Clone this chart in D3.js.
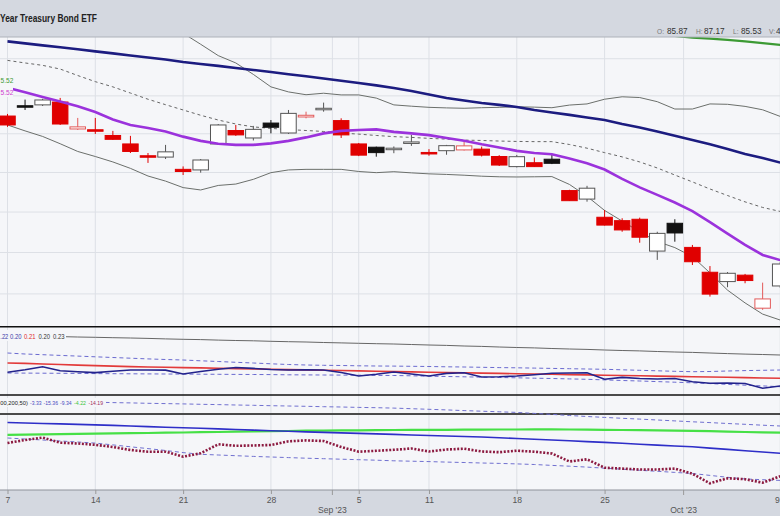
<!DOCTYPE html>
<html><head><meta charset="utf-8">
<script src="https://cdn.jsdelivr.net/npm/d3@7"></script>
<style>
body{margin:0;background:#f5f6f9;}
svg{display:block;font-family:"Liberation Sans",Arial,sans-serif;}
</style>
</head><body>
<svg id="c" width="780" height="516"></svg>
<script>
// ---------- DATA ----------
const dates = ["Aug 7","Aug 8","Aug 9","Aug 10","Aug 11","Aug 14","Aug 15","Aug 16","Aug 17","Aug 18",
  "Aug 21","Aug 22","Aug 23","Aug 24","Aug 25","Aug 28","Aug 29","Aug 30","Aug 31","Sep 1",
  "Sep 5","Sep 6","Sep 7","Sep 8","Sep 11","Sep 12","Sep 13","Sep 14","Sep 15","Sep 18",
  "Sep 19","Sep 20","Sep 21","Sep 22","Sep 25","Sep 26","Sep 27","Sep 28","Sep 29","Oct 2",
  "Oct 3","Oct 4","Oct 5","Oct 6","Oct 9"];
const priorClose = 95.20;
const open  = [94.93,95.46,95.52,95.67,94.25,94.18,93.91,93.47,92.84,92.79,92.16,92.13,93.47,94.17,93.78,94.56,94.04,94.88,95.29,94.69,93.47,93.30,93.20,93.52,93.00,93.12,93.16,93.20,92.82,92.30,92.50,92.68,91.08,90.65,89.74,89.57,89.64,88.07,89.44,88.25,87.04,86.59,86.90,85.32,86.38];
const high  = [95.04,95.80,95.84,95.89,94.83,94.83,94.15,93.89,93.00,93.42,92.31,92.69,94.51,94.46,94.41,94.72,95.25,95.16,95.64,94.81,93.52,93.33,93.34,93.94,93.20,93.42,93.59,93.33,92.89,92.90,92.77,92.90,91.12,91.32,90.10,89.69,89.72,89.02,89.64,88.37,87.34,87.05,86.96,86.54,87.53];
const low   = [94.36,95.25,95.46,94.46,94.20,93.99,93.68,93.00,92.49,92.69,91.87,91.99,93.42,93.89,93.65,94.02,93.99,94.81,95.16,93.78,92.84,92.81,92.99,93.37,92.86,92.91,93.13,92.82,92.33,92.26,92.28,92.43,90.56,90.52,89.33,89.02,88.48,87.64,88.53,87.39,85.87,86.32,86.51,85.24,86.29];
const close = [94.46,95.41,95.78,94.51,94.36,94.16,93.71,93.08,92.80,93.06,92.05,92.64,94.46,93.94,94.23,94.34,95.07,94.97,95.31,93.94,92.89,93.02,93.22,93.55,92.98,93.38,93.37,92.89,92.38,92.81,92.30,92.47,90.57,91.20,89.35,89.11,88.75,88.94,88.96,87.55,85.99,86.99,86.64,85.76,87.44];

const smaNavy = [98.95,98.84,98.73,98.63,98.52,98.40,98.29,98.18,98.07,97.96,97.82,97.71,97.61,97.50,97.39,97.28,97.16,97.05,96.93,96.81,96.69,96.56,96.42,96.26,96.07,95.89,95.75,95.62,95.52,95.41,95.25,95.12,94.99,94.85,94.72,94.51,94.33,94.12,93.89,93.68,93.45,93.21,92.95,92.74,92.51];
const emaPurple = [96.43,96.19,95.94,95.70,95.45,95.14,94.75,94.46,94.30,94.12,93.85,93.63,93.48,93.42,93.42,93.50,93.63,93.81,94.02,94.15,94.20,94.23,94.10,94.02,93.93,93.78,93.64,93.45,93.29,93.11,93.00,92.94,92.72,92.47,92.15,91.67,91.24,90.86,90.48,90.05,89.50,88.93,88.37,87.88,87.63];
const bbMid = [97.91,97.77,97.64,97.44,97.09,96.76,96.48,96.15,95.82,95.53,95.25,94.97,94.72,94.51,94.36,94.28,94.22,94.17,94.12,94.04,93.98,93.91,93.85,93.81,93.76,93.72,93.67,93.65,93.62,93.60,93.59,93.59,93.44,93.25,93.02,92.80,92.54,92.23,91.87,91.52,91.16,90.83,90.51,90.23,90.03];
const bbUpper = [101.36,101.39,101.42,101.40,101.10,100.70,100.42,100.09,99.82,99.50,99.40,98.79,98.17,97.77,97.15,96.48,96.21,96.06,96.14,96.05,96.05,95.88,95.52,95.45,95.39,95.36,95.34,95.37,95.39,95.42,95.40,95.37,95.51,95.57,95.82,95.95,95.91,95.69,95.30,95.30,95.57,95.55,95.44,95.26,94.91];
const bbLower = [94.46,94.15,93.86,93.48,93.08,92.82,92.54,92.21,91.82,91.56,91.23,91.11,91.34,91.41,91.65,91.99,92.13,92.16,92.16,92.16,92.05,91.99,92.04,91.98,91.93,91.90,91.86,91.81,91.78,91.77,91.78,91.79,91.39,90.79,90.08,89.55,89.02,88.54,88.24,87.80,87.01,86.18,85.57,85.04,84.76];
const smaGreen = [null,null,null,null,null,null,null,null,null,null,null,null,null,null,null,null,null,null,null,null,null,null,null,null,null,null,null,null,null,null,null,null,null,null,null,null,99.35,99.30,99.25,99.15,99.10,99.03,98.95,98.85,98.76];
const priceTicks = [86,88,90,92,94,96,98];
const priceLabels = ["5.52","5.52"];

// panel 2 (relative strength)
const relNavy = [.2028,.2052,.2082,.2043,.2032,.2024,.2038,.2050,.2050,.2049,.2010,.2035,.2058,.2075,.2066,.2055,.2050,.2051,.2050,.2025,.1990,.2007,.2030,.2010,.1990,.2016,.2022,.1980,.1983,.1990,.2003,.2017,.2020,.2023,.1957,.1976,.1965,.1960,.1965,.1932,.1917,.1920,.1915,.1867,.1890];
const relRed = [.2120,.2116,.2110,.2105,.2099,.2094,.2089,.2084,.2080,.2077,.2074,.2071,.2068,.2064,.2061,.2058,.2054,.2051,.2048,.2045,.2041,.2038,.2034,.2031,.2028,.2025,.2022,.2019,.2016,.2013,.2010,.2007,.2004,.2001,.1998,.1995,.1992,.1989,.1986,.1983,.1980,.1977,.1974,.1970,.1967];
const relGray = [.2396,.2393,.2389,.2384,.2380,.2377,.2373,.2370,.2366,.2361,.2357,.2354,.2349,.2345,.2342,.2337,.2333,.2330,.2325,.2321,.2317,.2313,.2310,.2305,.2300,.2296,.2290,.2286,.2280,.2275,.2271,.2265,.2260,.2256,.2250,.2245,.2241,.2235,.2230,.2226,.2220,.2214,.2209,.2205,.2200];
const relUpper = [.2220,.2210,.2203,.2196,.2189,.2182,.2175,.2168,.2161,.2155,.2150,.2142,.2135,.2127,.2120,.2112,.2105,.2100,.2097,.2095,.2092,.2090,.2089,.2087,.2085,.2082,.2080,.2077,.2074,.2072,.2069,.2066,.2063,.2060,.2057,.2052,.2047,.2042,.2037,.2033,.2035,.2040,.2044,.2047,.2050];
const relLower = [.2020,.2019,.2018,.2017,.2016,.2014,.2013,.2012,.2011,.2010,.2009,.2008,.2007,.2006,.2005,.2004,.2002,.2001,.2000,.1999,.1998,.1996,.1995,.1992,.1988,.1985,.1982,.1978,.1975,.1972,.1968,.1965,.1961,.1957,.1951,.1945,.1940,.1934,.1928,.1922,.1914,.1906,.1898,.1891,.1883];
const relLegend = [".22","0.20","0.21","0.20","0.23"];

// panel 3
const indBlue = [-3.40,-3.60,-3.80,-3.96,-4.16,-4.36,-4.56,-4.80,-5.04,-5.28,-5.48,-5.72,-5.96,-6.20,-6.44,-6.68,-6.92,-7.16,-7.36,-7.56,-7.76,-7.96,-8.16,-8.40,-8.60,-8.80,-9.00,-9.20,-9.48,-9.80,-10.08,-10.40,-10.72,-11.04,-11.36,-11.72,-12.08,-12.44,-12.80,-13.12,-13.64,-14.16,-14.68,-15.20,-15.72];
const indGreen = [-8.36,-8.28,-8.16,-8.08,-7.96,-7.88,-7.76,-7.68,-7.60,-7.48,-7.40,-7.28,-7.20,-7.08,-7.00,-6.88,-6.80,-6.68,-6.64,-6.56,-6.52,-6.44,-6.40,-6.36,-6.32,-6.32,-6.28,-6.24,-6.20,-6.20,-6.16,-6.12,-6.20,-6.24,-6.32,-6.40,-6.48,-6.52,-6.64,-6.72,-6.88,-7.04,-7.20,-7.36,-7.48];
const indUpper = [5.40,5.24,5.12,5.00,4.84,4.72,4.56,4.44,4.28,4.16,4.04,3.88,3.76,3.60,3.48,3.32,3.20,3.08,2.92,2.80,2.64,2.52,2.36,2.12,1.88,1.64,1.36,1.12,0.88,0.64,0.24,-0.16,-0.60,-1.00,-1.36,-1.72,-2.04,-2.40,-2.76,-3.12,-3.44,-3.80,-4.12,-4.48,-4.80];
const indLower = [-9.60,-10.00,-10.40,-10.80,-11.20,-11.64,-12.36,-13.12,-13.84,-14.60,-15.44,-16.12,-16.40,-16.68,-16.96,-17.20,-17.44,-17.68,-17.88,-18.08,-18.28,-18.48,-18.72,-18.88,-19.04,-19.24,-19.40,-19.60,-19.76,-19.96,-20.20,-20.56,-20.88,-21.24,-21.68,-22.08,-22.52,-22.92,-23.36,-23.80,-24.56,-25.32,-26.00,-26.28,-26.56];
const indMaroon = [-11.60,-10.40,-9.40,-11.48,-11.80,-12.32,-13.20,-14.40,-15.08,-15.08,-17.08,-15.72,-12.12,-12.72,-12.60,-12.40,-10.92,-10.56,-10.80,-13.20,-15.08,-14.72,-14.32,-13.80,-15.00,-14.20,-13.88,-15.00,-15.28,-14.68,-15.08,-15.80,-19.00,-18.12,-21.48,-21.84,-22.20,-22.20,-21.84,-23.92,-27.72,-25.72,-26.08,-27.48,-24.88];
const indLegend = ["00,200,50)","-3.33","-15.36","-9.34","-4.22","-14.19"];

// axis
const tickDays = ["Aug 7","Aug 14","Aug 21","Aug 28","Sep 5","Sep 11","Sep 18","Sep 25","Oct 9"];
const tickLabels = ["7","14","21","28","5","11","18","25","9"];
const monthStarts = ["Sep 1","Oct 2"];
const monthLabels = ["Sep '23","Oct '23"];
const title = "Year Treasury Bond ETF";
const ohlc = [["O:","85.87"],["H:","87.17"],["L:","85.53"],["V:","4"]];

// ---------- CHART ----------
const svg = d3.select("#c");
const BG = "#f5f6f9", BAND = "#d4d8e0", GRID = "#dde0e6";
const x = d3.scalePoint().domain(dates).range([7.5, 780.2]);
const step = x.step();
const yP = d3.scaleLog().domain([84.48, 99.19]).range([326, 37]);
const y2 = d3.scaleLinear().domain([0.180, 0.248]).range([395, 327]);
const y3 = d3.scaleLinear().domain([-30.4, 7.6]).range([490, 395]);

const defs = svg.append("defs");
function clip(id, y0, h){ defs.append("clipPath").attr("id", id).append("rect").attr("x",0).attr("y",y0).attr("width",780).attr("height",h); }
clip("cm", 37, 289.5); clip("c2", 327, 68); clip("c3", 395, 95);

svg.append("rect").attr("width",780).attr("height",516).attr("fill",BG);
svg.append("rect").attr("width",780).attr("height",37).attr("fill",BAND);
svg.append("rect").attr("y",490).attr("width",780).attr("height",26).attr("fill",BAND);

// vertical grid
const monthX = monthStarts.map(d => x(d) - step/2);
const gridX = tickDays.map(d => x(d)).concat(monthX);
svg.append("g").selectAll("line").data(gridX).join("line")
  .attr("x1",d=>d).attr("x2",d=>d).attr("y1",37).attr("y2",490)
  .attr("stroke",GRID).attr("stroke-width",1);
// horizontal grid main
svg.append("g").selectAll("line").data(priceTicks).join("line")
  .attr("x1",0).attr("x2",780).attr("y1",d=>yP(d)).attr("y2",d=>yP(d))
  .attr("stroke",GRID).attr("stroke-width",1);

// ---- main panel ----
const gm = svg.append("g").attr("clip-path","url(#cm)");
const lineP = arr => d3.line().defined((d)=>d!=null).x((d,i)=>x(dates[i])).y(d=>yP(d))(arr);

gm.append("path").attr("d", lineP(bbUpper)).attr("fill","none").attr("stroke","#6b6f6b").attr("stroke-width",1);
gm.append("path").attr("d", lineP(bbLower)).attr("fill","none").attr("stroke","#6b6f6b").attr("stroke-width",1);
gm.append("path").attr("d", lineP(bbMid)).attr("fill","none").attr("stroke","#666").attr("stroke-width",1).attr("stroke-dasharray","3,3");

const cw = 15.5;
const candles = dates.map((d,i)=>{
  const pc = i===0 ? priorClose : close[i-1];
  const upDay = close[i] >= pc;
  const hollow = close[i] > open[i];
  return {d, o:open[i], h:high[i], l:low[i], c:close[i], upDay, hollow};
});
const cg = gm.append("g");
candles.forEach(k=>{
  const col = k.upDay ? (k.hollow ? "#555" : "#111") : (k.hollow ? "#e25a5a" : "#e00000");
  const cx = x(k.d);
  cg.append("line").attr("x1",cx).attr("x2",cx).attr("y1",yP(k.h)).attr("y2",yP(k.l)).attr("stroke",col).attr("stroke-width",1);
  const yt = yP(Math.max(k.o,k.c)), yb = yP(Math.min(k.o,k.c));
  const h = Math.max(yb-yt, 1.5);
  cg.append("rect").attr("x",cx-cw/2).attr("y",yt - (h-(yb-yt))/2).attr("width",cw).attr("height",h)
    .attr("fill", k.hollow ? "#ffffff" : col).attr("stroke",col).attr("stroke-width",1);
});

gm.append("path").attr("d", lineP(emaPurple)).attr("fill","none").attr("stroke","#9b32dc").attr("stroke-width",2.6);
gm.append("path").attr("d", lineP(smaNavy)).attr("fill","none").attr("stroke","#1c1c80").attr("stroke-width",2.6);
gm.append("path").attr("d", lineP(smaGreen)).attr("fill","none").attr("stroke","#3c9a34").attr("stroke-width",2.2);

// left value labels
svg.append("rect").attr("x",0).attr("y",76).attr("width",13).attr("height",21).attr("fill",BG);
svg.append("text").attr("x",0.5).attr("y",82.6).attr("font-size",6.6).attr("fill","#3c9a34").text(priceLabels[0]);
svg.append("text").attr("x",0.5).attr("y",94.6).attr("font-size",6.6).attr("fill","#d040d0").text(priceLabels[1]);

// ---- panel 2 ----
const g2 = svg.append("g").attr("clip-path","url(#c2)");
const line2 = arr => d3.line().x((d,i)=>x(dates[i])).y(d=>y2(d))(arr);
g2.append("path").attr("d", line2(relGray)).attr("fill","none").attr("stroke","#666").attr("stroke-width",1);
g2.append("path").attr("d", line2(relUpper)).attr("fill","none").attr("stroke","#6a6ad0").attr("stroke-width",1).attr("stroke-dasharray","4,3");
g2.append("path").attr("d", line2(relLower)).attr("fill","none").attr("stroke","#6a6ad0").attr("stroke-width",1).attr("stroke-dasharray","4,3");
g2.append("path").attr("d", line2(relRed)).attr("fill","none").attr("stroke","#e23a3a").attr("stroke-width",1.6);
g2.append("path").attr("d", line2(relNavy)).attr("fill","none").attr("stroke","#23238c").attr("stroke-width",1.6);
svg.append("rect").attr("x",0).attr("y",330).attr("width",66).attr("height",11).attr("fill",BG);
const l2x = [0.3,10,24,38.5,53], l2w = [8,11.5,11.5,11.5,11.5], l2c = ["#3a3aa8","#3a3aa8","#e02828","#333","#333"];
const t2 = svg.append("text").attr("y",338.5).attr("font-size",6.4);
relLegend.forEach((t,i)=> t2.append("tspan").attr("x",l2x[i]).attr("textLength",l2w[i])
  .attr("lengthAdjust","spacingAndGlyphs").attr("fill",l2c[i]).text(t));

// ---- panel 3 ----
const g3 = svg.append("g").attr("clip-path","url(#c3)");
const line3 = arr => d3.line().x((d,i)=>x(dates[i])).y(d=>y3(d))(arr);
g3.append("line").attr("x1",0).attr("x2",780).attr("y1",y3(0)).attr("y2",y3(0)).attr("stroke","#4a4a4a").attr("stroke-width",2);
g3.append("path").attr("d", line3(indUpper)).attr("fill","none").attr("stroke","#7070d0").attr("stroke-width",1).attr("stroke-dasharray","4,3");
g3.append("path").attr("d", line3(indLower)).attr("fill","none").attr("stroke","#7070d0").attr("stroke-width",1).attr("stroke-dasharray","4,3");
g3.append("path").attr("d", line3(indGreen)).attr("fill","none").attr("stroke","#46e046").attr("stroke-width",2.2);
g3.append("path").attr("d", line3(indBlue)).attr("fill","none").attr("stroke","#2e2ec8").attr("stroke-width",1.6);
g3.append("path").attr("d", line3(indMaroon)).attr("fill","none").attr("stroke","#8c1a40").attr("stroke-width",2.6).attr("stroke-dasharray","2,1.6");
svg.append("rect").attr("x",0).attr("y",398).attr("width",106).attr("height",9).attr("fill",BG);
const l3x = [0.3,30,43.5,60,74,88.5], l3w = [27.5,11.5,14.5,11.5,12,14.5], l3c = ["#222","#4848c0","#4848c0","#4848c0","#3cc43c","#a02c5c"];
const t3 = svg.append("text").attr("y",405.3).attr("font-size",5.7);
indLegend.forEach((t,i)=> t3.append("tspan").attr("x",l3x[i]).attr("textLength",l3w[i])
  .attr("lengthAdjust","spacingAndGlyphs").attr("fill",l3c[i]).text(t));

// borders
svg.append("line").attr("x1",0).attr("x2",780).attr("y1",37).attr("y2",37).attr("stroke","#aeb2ba");
svg.append("line").attr("x1",0).attr("x2",780).attr("y1",326.8).attr("y2",326.8).attr("stroke","#111").attr("stroke-width",1.4);
svg.append("line").attr("x1",0).attr("x2",780).attr("y1",395).attr("y2",395).attr("stroke","#111").attr("stroke-width",1.4);
svg.append("line").attr("x1",0).attr("x2",780).attr("y1",490).attr("y2",490).attr("stroke","#8e929a").attr("stroke-width",1);

// x axis
const ax = svg.append("g").attr("transform","translate(0,490)")
  .call(d3.axisBottom(x).tickValues(tickDays).tickFormat((d,i)=>tickLabels[i]).tickSize(4).tickPadding(3));
ax.select(".domain").remove();
ax.selectAll(".tick line").attr("stroke","#999");
ax.selectAll("text").attr("font-size",8.6).attr("fill","#555").attr("font-family","'Liberation Sans',Arial,sans-serif");
ax.selectAll(".tick").filter((d,i)=>i===tickDays.length-1).select("text").attr("text-anchor","end").attr("dx",-1);
svg.append("g").selectAll("line").data(monthX).join("line")
  .attr("x1",d=>d).attr("x2",d=>d).attr("y1",490).attr("y2",495).attr("stroke","#999");
svg.append("g").selectAll("text").data(monthLabels).join("text")
  .attr("x",(d,i)=>monthX[i]).attr("y",513).attr("text-anchor","middle")
  .attr("font-size",8.6).attr("fill","#555").text(d=>d);

// header
svg.append("text").attr("x",0).attr("y",22).attr("font-size",10.6).attr("font-weight","bold")
  .attr("fill","#222").attr("textLength",97).attr("lengthAdjust","spacingAndGlyphs").text(title);
const ohX = [[657,667],[696,704],[733,741],[769,776]];
ohlc.forEach((p,i)=>{
  svg.append("text").attr("x",ohX[i][0]).attr("y",33.6).attr("font-size",6.6).attr("fill","#777").text(p[0]);
  svg.append("text").attr("x",ohX[i][1]).attr("y",33.6).attr("font-size",8.2).attr("fill","#333").text(p[1]);
});
</script>
</body></html>
